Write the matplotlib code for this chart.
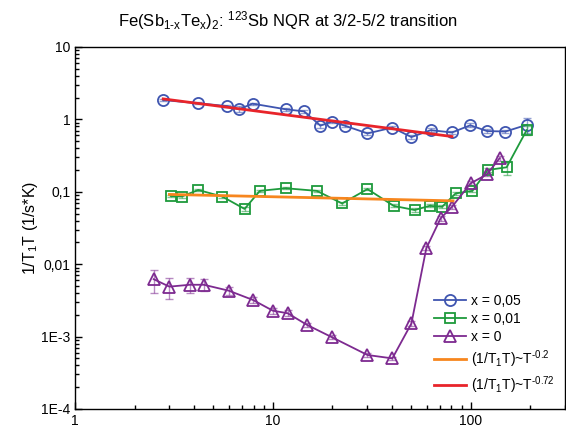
import matplotlib
matplotlib.use("Agg")
import matplotlib.pyplot as plt
from matplotlib.ticker import FixedLocator, FixedFormatter, LogLocator, NullFormatter

plt.rcParams['font.family'] = ['Liberation Sans', 'DejaVu Sans']
plt.rcParams['mathtext.fontset'] = 'custom'
plt.rcParams['mathtext.rm'] = 'Liberation Sans'
plt.rcParams['mathtext.it'] = 'Liberation Sans'
plt.rcParams['mathtext.bf'] = 'Liberation Sans:bold'

# ---- data ----
T_x005 = [2.79, 4.2, 5.84, 6.73, 7.9, 11.6, 14.4, 17.4, 19.9, 23.1, 30.1, 40.2, 50.2, 62.8, 80.5, 99.6, 121, 150, 192]
v_x005 = [1.85, 1.67, 1.53, 1.38, 1.65, 1.38, 1.29, 0.82, 0.93, 0.82, 0.64, 0.77, 0.57, 0.71, 0.66, 0.83, 0.69, 0.68, 0.84]
e_x005 = [0.05, 0.05, 0.05, 0.13, 0.05, 0.06, 0.06, 0.05, 0.04, 0.04, 0.04, 0.04, 0.04, 0.04, 0.04, 0.05, 0.04, 0.04, 0.2]

T_x001 = [3.05, 3.46, 4.2, 5.55, 7.2, 8.6, 11.6, 16.7, 22.4, 30.1, 40.8, 52.1, 62.1, 71.7, 84, 102, 122, 152, 192]
v_x001 = [0.0875, 0.086, 0.106, 0.086, 0.058, 0.103, 0.112, 0.103, 0.069, 0.109, 0.064, 0.056, 0.064, 0.062, 0.095, 0.103, 0.2, 0.218, 0.71]
e_x001 = [0.004, 0.004, 0.004, 0.004, 0.004, 0.004, 0.004, 0.004, 0.003, 0.004, 0.003, 0.003, 0.003, 0.003, 0.004, 0.005, 0.01, 0.045, 0.1]

T_x0 = [2.5, 3.0, 3.81, 4.48, 6.0, 7.95, 10.0, 11.9, 14.9, 19.9, 30.1, 40.2, 50.2, 59.7, 70.5, 80.5, 100, 121, 140]
v_x0 = [0.0062, 0.0049, 0.0052, 0.0052, 0.0043, 0.0032, 0.00228, 0.0021, 0.00145, 0.00098, 0.000557, 0.0005, 0.00152, 0.0166, 0.043, 0.062, 0.131, 0.174, 0.29]
e_x0 = [0.0022, 0.0016, 0.0012, 0.001, 0.0005, 0.0003, 0.0002, 0.0002, 0.0001, 0.00006, 0.00003, 0.00003, 0.0001, 0.001, 0.003, 0.004, 0.008, 0.01, 0.02]

fit02_T = [3.0, 81.5]
fit02_v = [0.092, 0.075]
fit072_T = [2.79, 80.5]
fit072_v = [1.92, 0.58]

y_ticks = [1e-4, 1e-3, 1e-2, 1e-1, 1, 10]
y_ticklabels = ['1E-4', '1E-3', '0,01', '0,1', '1', '10']
x_ticks = [1, 10, 100]
x_ticklabels = ['1', '10', '100']

labels = ['x = 0,05', 'x = 0,01', 'x = 0',
          r'(1/T$_1$T)~T$^{\text{-0.2}}$', r'(1/T$_1$T)~T$^{\text{-0.72}}$']
title = r'Fe(Sb$_{\text{1-x}}$Te$_{\text{x}}$)$_2$: $^{123}$Sb NQR at 3/2-5/2 transition'
ylabel = '1/T$_1$T (1/s*K)'

c_blue = '#3F55B0'
c_green = '#1E9A3C'
c_purple = '#7D2A90'
c_orange = '#F7861E'
c_red = '#E8242A'

fig = plt.figure(figsize=(5.66, 4.30), dpi=100)
ax = fig.add_axes([75/566, 1 - 409/430, 490/566, 362/430])

def series(T, v, e, color, marker, ms, label):
    ax.errorbar(T, v, yerr=e, fmt='none', ecolor=color, alpha=0.55,
                elinewidth=1.0, capsize=3, capthick=1.0, zorder=2)
    ax.plot(T, v, color=color, marker=marker, ms=ms, mfc='none', mec=color,
            mew=1.3, lw=1.3, label=label, zorder=3)

series(T_x005, v_x005, e_x005, c_blue, 'o', 8, labels[0])
series(T_x001, v_x001, e_x001, c_green, 's', 7, labels[1])
series(T_x0, v_x0, e_x0, c_purple, '^', 9, labels[2])
ax.plot(fit02_T, fit02_v, color=c_orange, lw=2.0, label=labels[3], zorder=4)
ax.plot(fit072_T, fit072_v, color=c_red, lw=2.0, label=labels[4], zorder=4)

ax.set_xscale('log')
ax.set_yscale('log')
ax.set_xlim(1, 300)
ax.set_ylim(1e-4, 10)

ax.xaxis.set_major_locator(FixedLocator(x_ticks))
ax.xaxis.set_major_formatter(FixedFormatter(x_ticklabels))
ax.xaxis.set_minor_locator(LogLocator(base=10, subs=range(2, 10), numticks=20))
ax.xaxis.set_minor_formatter(NullFormatter())
ax.yaxis.set_major_locator(FixedLocator(y_ticks))
ax.yaxis.set_major_formatter(FixedFormatter(y_ticklabels))
ax.yaxis.set_minor_locator(LogLocator(base=10, subs=range(2, 10), numticks=20))
ax.yaxis.set_minor_formatter(NullFormatter())

ax.tick_params(which='both', direction='in', top=False, right=False, labelsize=10, width=1.0)
ax.tick_params(which='major', length=5)
ax.tick_params(which='minor', length=3)
for s in ax.spines.values():
    s.set_linewidth(1.0)

ax.set_ylabel(ylabel, fontsize=11.5)
ax.yaxis.set_label_coords(-0.071, 0.5)
fig.text(288/566, 1 - 21/430, title, ha='center', va='center', fontsize=12)

ax.legend(loc='lower right', bbox_to_anchor=(1.0, 0.01), frameon=False, fontsize=10,
          handlelength=2.3, handletextpad=0.4, labelspacing=0.3, borderaxespad=0.3)

fig.savefig('out.png', dpi=100)
